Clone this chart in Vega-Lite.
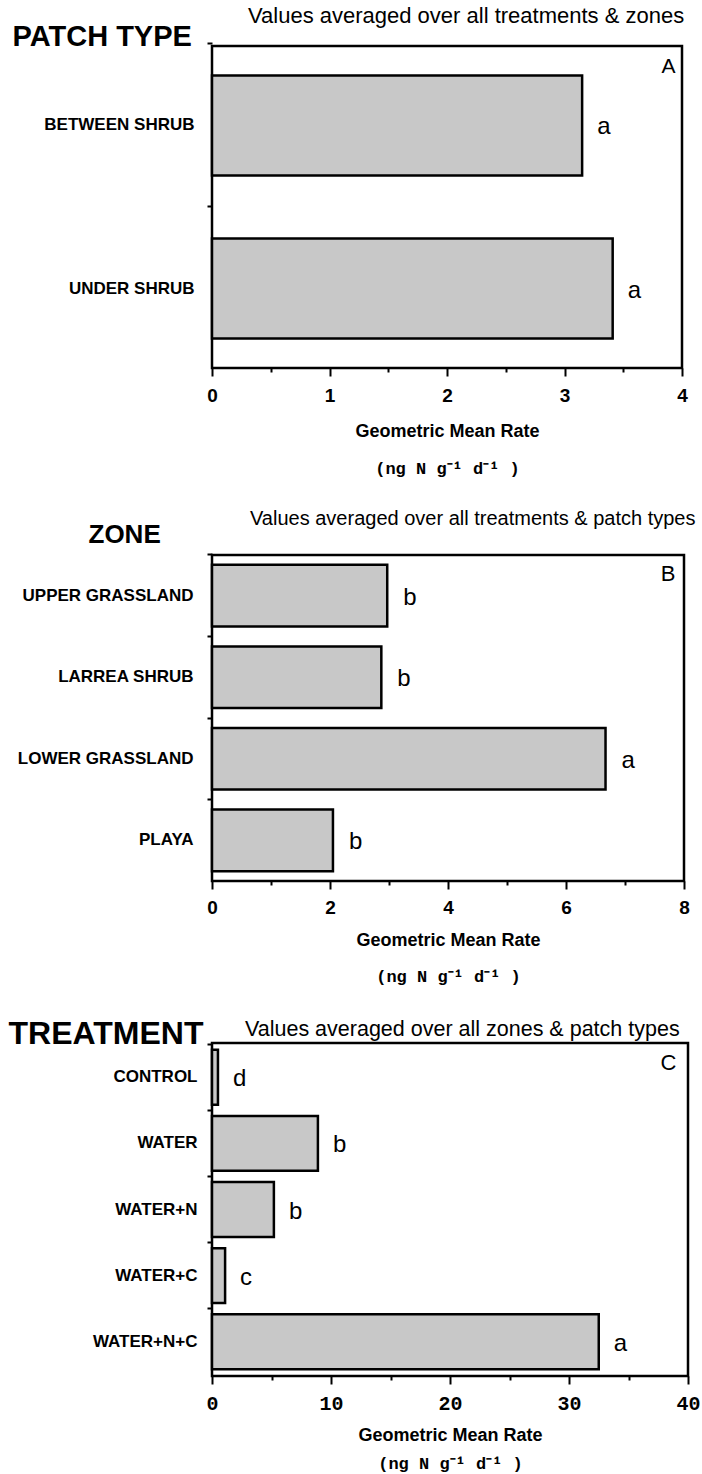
{
  "$schema": "https://vega.github.io/schema/vega-lite/v6.json",
  "background": "white",
  "padding": {"left": 6, "top": 3, "right": 2, "bottom": 2},
  "spacing": 29,
  "config": {
    "font": "Liberation Sans",
    "view": {"stroke": "black", "strokeWidth": 2.5},
    "axis": {"grid": false, "domain": false, "labelColor": "black", "titleColor": "black", "tickColor": "black", "tickWidth": 2},
    "title": {"color": "black"}
  },
  "datasets": {
    "patch": [
      {"category": "BETWEEN SHRUB", "rate": 3.15, "sig": "a"},
      {"category": "UNDER SHRUB", "rate": 3.41, "sig": "a"}
    ],
    "zone": [
      {"category": "UPPER GRASSLAND", "rate": 2.97, "sig": "b"},
      {"category": "LARREA SHRUB", "rate": 2.87, "sig": "b"},
      {"category": "LOWER GRASSLAND", "rate": 6.67, "sig": "a"},
      {"category": "PLAYA", "rate": 2.05, "sig": "b"}
    ],
    "treatment": [
      {"category": "CONTROL", "rate": 0.5, "sig": "d"},
      {"category": "WATER", "rate": 8.9, "sig": "b"},
      {"category": "WATER+N", "rate": 5.2, "sig": "b"},
      {"category": "WATER+C", "rate": 1.1, "sig": "c"},
      {"category": "WATER+N+C", "rate": 32.5, "sig": "a"}
    ]
  },
  "vconcat": [
    {
      "width": 470,
      "height": 322,
      "data": {"name": "patch"},
      "title": {"text": "Values averaged over all treatments & zones", "anchor": "start", "frame": "group", "dx": 36, "offset": -23, "baseline": "alphabetic", "fontSize": 22, "fontWeight": "normal", "font": "Liberation Sans"},
      "resolve": {"axis": {"x": "independent", "y": "independent"}},
      "layer": [
        {
          "mark": {"type": "bar", "fill": "#c8c8c8", "stroke": "black", "strokeWidth": 2.5},
          "encoding": {
            "y": {"field": "category", "type": "nominal", "sort": null,
              "scale": {"paddingInner": 0.387, "paddingOuter": 0.181},
              "axis": {"orient": "left", "title": "PATCH TYPE", "titleAngle": 0, "titleX": -200, "titleY": -1, "titleAlign": "left", "titleBaseline": "alphabetic", "titleFontSize": 29, "titleFontWeight": "bold", "labelFontSize": 17, "labelFontWeight": "bold", "labelPadding": 13, "labelLimit": 300, "tickSize": 5, "bandPosition": -0.316}},
            "x": {"field": "rate", "type": "quantitative",
              "scale": {"domain": [0, 4], "nice": false, "zero": true},
              "axis": {"orient": "bottom", "values": [0, 1, 2, 3, 4], "tickSize": 8, "labelPadding": 10, "labelFontSize": 19, "labelFontWeight": "bold", "labelFont": "Liberation Sans", "labelFlush": false, "title": "Geometric Mean Rate", "titleY": 68, "titleBaseline": "alphabetic", "titleFontSize": 18, "titleFontWeight": "bold"}}
          }
        },
        {
          "mark": {"type": "text", "align": "left", "baseline": "middle", "dx": 15, "dy": 2, "fontSize": 24, "font": "Liberation Sans", "color": "black"},
          "encoding": {
            "y": {"field": "category", "type": "nominal", "sort": null,
              "axis": {"orient": "right", "labels": false, "ticks": false, "title": "A", "titleAngle": 0, "titleX": -7, "titleY": 9, "titleAlign": "right", "titleBaseline": "top", "titleFontSize": 21, "titleFontWeight": "normal"}},
            "x": {"field": "rate", "type": "quantitative",
              "axis": {"orient": "bottom", "values": [0.5, 1.5, 2.5, 3.5], "labels": false, "tickSize": 4, "title": "(ng N g⁻¹ d⁻¹ )", "titleFont": "Liberation Mono", "titleFontSize": 17, "titleFontWeight": "bold", "titleY": 105, "titleBaseline": "alphabetic"}},
            "text": {"field": "sig"}
          }
        }
      ]
    },
    {
      "width": 472,
      "height": 326,
      "data": {"name": "zone"},
      "title": {"text": "Values averaged over all treatments & patch types", "anchor": "start", "frame": "group", "dx": 38, "offset": -24, "baseline": "alphabetic", "fontSize": 20, "fontWeight": "normal", "font": "Liberation Sans"},
      "resolve": {"axis": {"x": "independent", "y": "independent"}},
      "layer": [
        {
          "mark": {"type": "bar", "fill": "#c8c8c8", "stroke": "black", "strokeWidth": 2.5},
          "encoding": {
            "y": {"field": "category", "type": "nominal", "sort": null,
              "scale": {"paddingInner": 0.244, "paddingOuter": 0.121},
              "axis": {"orient": "left", "title": "ZONE", "titleAngle": 0, "titleX": -124, "titleY": -13, "titleAlign": "left", "titleBaseline": "alphabetic", "titleFontSize": 26, "titleFontWeight": "bold", "labelFontSize": 17, "labelFontWeight": "bold", "labelPadding": 14, "labelLimit": 300, "tickSize": 5, "bandPosition": -0.161}},
            "x": {"field": "rate", "type": "quantitative",
              "scale": {"domain": [0, 8], "nice": false, "zero": true},
              "axis": {"orient": "bottom", "values": [0, 2, 4, 6, 8], "tickSize": 8, "labelPadding": 9, "labelFontSize": 19, "labelFontWeight": "bold", "labelFont": "Liberation Sans", "labelFlush": false, "title": "Geometric Mean Rate", "titleY": 64, "titleBaseline": "alphabetic", "titleFontSize": 18, "titleFontWeight": "bold"}}
          }
        },
        {
          "mark": {"type": "text", "align": "left", "baseline": "middle", "dx": 16, "dy": 2, "fontSize": 24, "font": "Liberation Sans", "color": "black"},
          "encoding": {
            "y": {"field": "category", "type": "nominal", "sort": null,
              "axis": {"orient": "right", "labels": false, "ticks": false, "title": "B", "titleAngle": 0, "titleX": -9, "titleY": 8, "titleAlign": "right", "titleBaseline": "top", "titleFontSize": 22, "titleFontWeight": "normal"}},
            "x": {"field": "rate", "type": "quantitative",
              "axis": {"orient": "bottom", "values": [1, 3, 5, 7], "labels": false, "tickSize": 4, "title": "(ng N g⁻¹ d⁻¹ )", "titleFont": "Liberation Mono", "titleFontSize": 17, "titleFontWeight": "bold", "titleY": 100, "titleBaseline": "alphabetic"}},
            "text": {"field": "sig"}
          }
        }
      ]
    },
    {
      "width": 476,
      "height": 333,
      "data": {"name": "treatment"},
      "title": {"text": "Values averaged over all zones & patch types", "anchor": "start", "frame": "group", "dx": 33, "offset": -40, "baseline": "alphabetic", "fontSize": 21.5, "fontWeight": "normal", "font": "Liberation Sans"},
      "resolve": {"axis": {"x": "independent", "y": "independent"}},
      "layer": [
        {
          "mark": {"type": "bar", "fill": "#c8c8c8", "stroke": "black", "strokeWidth": 2.5},
          "encoding": {
            "y": {"field": "category", "type": "nominal", "sort": null,
              "scale": {"paddingInner": 0.17, "paddingOuter": 0.104},
              "axis": {"orient": "left", "title": "TREATMENT", "titleAngle": 0, "titleX": -204, "titleY": 0, "titleAlign": "left", "titleBaseline": "alphabetic", "titleFontSize": 32, "titleFontWeight": "bold", "labelFontSize": 17, "labelFontWeight": "bold", "labelPadding": 10, "labelLimit": 300, "tickSize": 5, "bandPosition": -0.102}},
            "x": {"field": "rate", "type": "quantitative",
              "scale": {"domain": [0, 40], "nice": false, "zero": true},
              "axis": {"orient": "bottom", "values": [0, 10, 20, 30, 40], "tickSize": 8, "labelPadding": 9, "labelFontSize": 20, "labelFontWeight": "bold", "labelFont": "Liberation Mono", "labelFlush": false, "title": "Geometric Mean Rate", "titleY": 64, "titleBaseline": "alphabetic", "titleFontSize": 18, "titleFontWeight": "bold"}}
          }
        },
        {
          "mark": {"type": "text", "align": "left", "baseline": "middle", "dx": 15, "dy": 2, "fontSize": 24, "font": "Liberation Sans", "color": "black"},
          "encoding": {
            "y": {"field": "category", "type": "nominal", "sort": null,
              "axis": {"orient": "right", "labels": false, "ticks": false, "title": "C", "titleAngle": 0, "titleX": -12, "titleY": 9, "titleAlign": "right", "titleBaseline": "top", "titleFontSize": 22, "titleFontWeight": "normal"}},
            "x": {"field": "rate", "type": "quantitative",
              "axis": {"orient": "bottom", "values": [5, 15, 25, 35], "labels": false, "tickSize": 4, "title": "(ng N g⁻¹ d⁻¹ )", "titleFont": "Liberation Mono", "titleFontSize": 17, "titleFontWeight": "bold", "titleY": 92, "titleBaseline": "alphabetic"}},
            "text": {"field": "sig"}
          }
        }
      ]
    }
  ]
}
